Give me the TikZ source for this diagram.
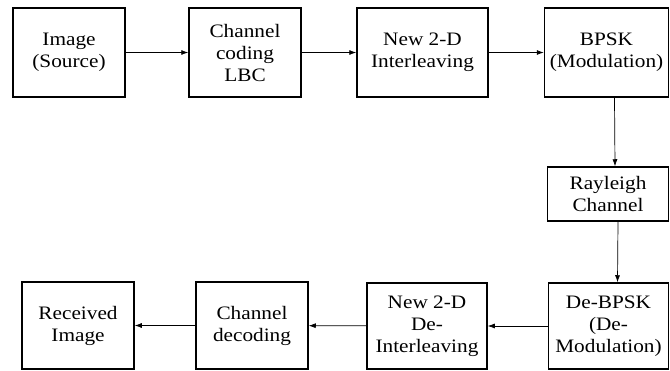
\documentclass[tikz,border=0pt]{standalone}
\usepackage{fontspec}
\setmainfont[FakeStretch=1.12]{Liberation Serif}
\usepackage{tikz}
\usetikzlibrary{positioning, arrows.meta}

\begin{document}
\begin{tikzpicture}[
    x=1pt, y=-1pt,
    block/.style={rectangle, draw, line width=1.5pt, minimum width=112pt, minimum height=89pt, align=center, inner sep=2pt, font=\rmfamily\fontsize{19}{22}\selectfont},
    arrow/.style={-{Latex[length=7pt, width=5pt]}, line width=0.7pt}
]
    \useasboundingbox (0,0) rectangle (670,370);

    % Transmitter row
    \node[block] (src) at (69, 52.5) {Image\\(Source)};
    \node[block] (enc) at (245, 52.5) {Channel\\coding\\LBC};
    \node[block, minimum width=131pt] (intl) at (422.5, 52.5) {New 2-D\\Interleaving};
    \node[block, minimum width=124pt] (mod) at (606.5, 52.5) {BPSK\\(Modulation)};

    % Channel
    \node[block, minimum width=121pt, minimum height=54pt] (chan) at (608, 194) {Rayleigh\\Channel};

    % Receiver row
    \node[block, minimum width=120pt, minimum height=86pt] (demod) at (608.5, 326) {De-BPSK\\(De-\\Modulation)};
    \node[block, minimum width=120pt, minimum height=86pt] (deintl) at (427, 326) {New 2-D\\De-\\Interleaving};
    \node[block, minimum height=87pt] (dec) at (252, 325.5) {Channel\\decoding};
    \node[block, minimum height=87pt] (rcv) at (78, 325.5) {Received\\Image};

    % Connections
    \draw[arrow] (src) -- (enc);
    \draw[arrow] (enc) -- (intl);
    \draw[arrow] (intl) -- (mod);
    \draw[arrow] ([xshift=8pt]mod.south) -- ([xshift=7pt]chan.north);
    \draw[arrow] ([xshift=10pt]chan.south) -- ([xshift=9pt]demod.north);
    \draw[arrow] (demod) -- (deintl);
    \draw[arrow] (deintl) -- (dec);
    \draw[arrow] (dec) -- (rcv);
\end{tikzpicture}
\end{document}
